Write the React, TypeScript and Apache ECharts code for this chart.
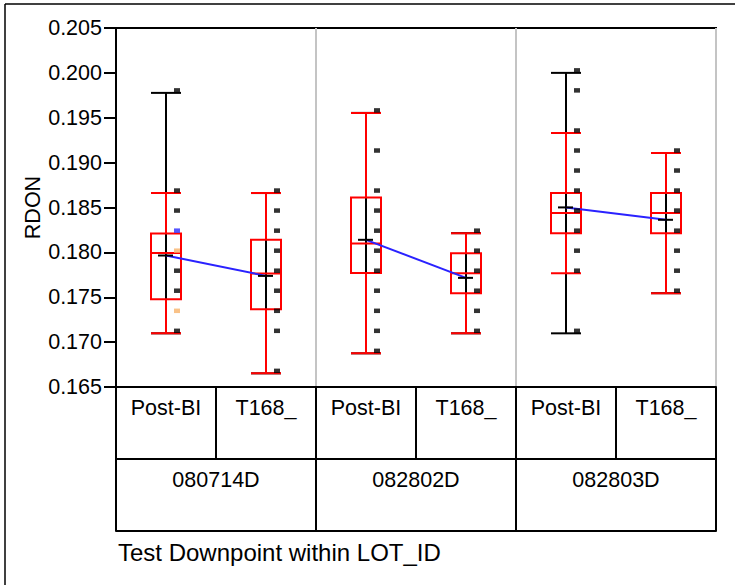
import React, { useEffect, useRef } from "react";
import * as echarts from "echarts";

const LOTS = ["080714D", "082802D", "082803D"];
const DOWNPOINTS = ["Post-BI", "T168_"];
const CATEGORIES = LOTS.flatMap(() => DOWNPOINTS);

// [whisker low, Q1, median, Q3, whisker high]
const BOX_STATS = [
  [0.17098, 0.17479, 0.17992, 0.1821, 0.18661],
  [0.16652, 0.17367, 0.17764, 0.1814, 0.18661],
  [0.16875, 0.17769, 0.18099, 0.18612, 0.19554],
  [0.17098, 0.17545, 0.17768, 0.17991, 0.18214],
  [0.17768, 0.18214, 0.18438, 0.18661, 0.1933],
  [0.17545, 0.18214, 0.18438, 0.18661, 0.19107],
];

// [min, max]
const RANGES = [
  [0.17098, 0.19777],
  [0.16652, 0.18661],
  [0.16875, 0.19554],
  [0.17098, 0.18214],
  [0.17098, 0.2],
  [0.17545, 0.19107],
];

const MEANS = [0.17965, 0.17738, 0.1814, 0.17716, 0.18501, 0.18363];

const POINTS = [
  [0.19777, 0.18661, 0.18438, 0.18214, 0.17991, 0.17768, 0.17545, 0.17321, 0.17098],
  [0.18661, 0.18438, 0.18214, 0.17991, 0.17768, 0.17545, 0.17321, 0.17098, 0.16652],
  [0.19554, 0.19107, 0.18661, 0.18438, 0.18214, 0.17991, 0.17768, 0.17545, 0.17321, 0.17098, 0.16875],
  [0.18214, 0.17991, 0.17768, 0.17545, 0.17321, 0.17098],
  [0.2, 0.19777, 0.1933, 0.19107, 0.18884, 0.18661, 0.18438, 0.18214, 0.17991, 0.17768, 0.17098],
  [0.19107, 0.18884, 0.18661, 0.18438, 0.18214, 0.17991, 0.17768, 0.17545],
];

// marker colour codes (k = black, b = blue, o = orange), same shape as POINTS
const POINT_COLORS = [
  ["k", "k", "k", "b", "o", "k", "k", "o", "k"],
  ["k", "k", "k", "k", "k", "k", "k", "k", "k"],
  ["k", "k", "k", "k", "k", "k", "k", "k", "k", "k", "k"],
  ["k", "k", "k", "k", "k", "k"],
  ["k", "k", "k", "k", "k", "k", "k", "k", "k", "k", "k"],
  ["k", "k", "k", "k", "k", "k", "k", "k"],
];

const COLOR_MAP: Record<string, string> = { k: "#000000", b: "#2a2aff", o: "#f7b36a" };
const FONT = 'Arial, "Liberation Sans", sans-serif';
const FS = 21.5;

export default function App() {
  const ref = useRef<HTMLDivElement>(null);

  useEffect(() => {
    if (!ref.current) return;
    const chart = echarts.init(ref.current, undefined, { renderer: "svg" });

    const scatterData: any[] = [];
    POINTS.forEach((vals, ci) =>
      vals.forEach((v, j) =>
        scatterData.push({
          value: [ci, v],
          itemStyle: { color: COLOR_MAP[POINT_COLORS[ci][j]] },
        })
      )
    );

    const meanLines = LOTS.map((_, g) => ({
      type: "line",
      data: CATEGORIES.map((_, ci) => (Math.floor(ci / 2) === g ? MEANS[ci] : "-")),
      symbol: "none",
      showSymbol: false,
      lineStyle: { color: "#2a22ff", width: 2 },
      z: 4,
      silent: true,
    }));

    const option: any = {
      animation: false,
      title: {
        text: "Test Downpoint within LOT_ID",
        left: 113,
        top: 535,
        textStyle: { fontFamily: FONT, fontSize: 24, fontWeight: "normal", color: "#000" },
      },
      grid: {
        left: 116,
        top: 28,
        right: 19,
        bottom: 198,
        show: true,
        borderColor: "#000",
        borderWidth: 2,
        backgroundColor: "transparent",
      },
      xAxis: [
        {
          type: "category",
          data: CATEGORIES,
          position: "bottom",
          axisLine: { show: true, lineStyle: { color: "#000", width: 2 } },
          axisTick: { show: true, interval: 0, length: 72, lineStyle: { color: "#000", width: 2 } },
          axisLabel: { interval: 0, margin: 10, fontSize: FS, fontFamily: FONT, color: "#000" },
          splitLine: { show: false },
        },
        {
          type: "category",
          data: LOTS,
          position: "bottom",
          offset: 72,
          axisLine: { show: true, lineStyle: { color: "#000", width: 2 } },
          axisTick: { show: true, interval: 0, length: 72, lineStyle: { color: "#000", width: 2 } },
          axisLabel: { interval: 0, margin: 10, fontSize: FS, fontFamily: FONT, color: "#000" },
          splitLine: { show: true, interval: 0, lineStyle: { color: "#c4c4c4", width: 2 } },
        },
        {
          type: "category",
          data: [""],
          position: "bottom",
          offset: 144,
          axisLine: { show: true, lineStyle: { color: "#000", width: 2 } },
          axisTick: { show: false },
          axisLabel: { show: false },
          splitLine: { show: false },
        },
      ],
      yAxis: {
        type: "value",
        min: 0.165,
        max: 0.205,
        interval: 0.005,
        name: "RDON",
        nameLocation: "middle",
        nameRotate: 90,
        nameGap: 72,
        nameMoveOverlap: false,
        nameTextStyle: { fontSize: FS, fontFamily: FONT, color: "#000" },
        axisLine: { show: true, lineStyle: { color: "#000", width: 2 } },
        axisTick: { show: true, length: 12, lineStyle: { color: "#000", width: 2 } },
        axisLabel: {
          margin: 14,
          fontSize: FS,
          fontFamily: FONT,
          color: "#000",
          formatter: (v: number) => v.toFixed(3),
        },
        splitLine: { show: false },
      },
      series: [
        {
          type: "custom",
          name: "range",
          xAxisIndex: 0,
          data: RANGES.map((r, ci) => [ci, r[0], r[1]]),
          encode: { x: 0, y: [1, 2] },
          z: 1,
          silent: true,
          renderItem: (params: any, api: any) => {
            const x = api.value(0);
            const lo = api.coord([x, api.value(1)]);
            const hi = api.coord([x, api.value(2)]);
            const hw = 15;
            const st = { stroke: "#000", lineWidth: 2 };
            return {
              type: "group",
              children: [
                { type: "line", shape: { x1: hi[0], y1: hi[1], x2: lo[0], y2: lo[1] }, style: st },
                { type: "line", shape: { x1: hi[0] - hw, y1: hi[1], x2: hi[0] + hw, y2: hi[1] }, style: st },
                { type: "line", shape: { x1: lo[0] - hw, y1: lo[1], x2: lo[0] + hw, y2: lo[1] }, style: st },
              ],
            };
          },
        },
        {
          type: "boxplot",
          xAxisIndex: 0,
          data: BOX_STATS,
          boxWidth: [30, 30],
          itemStyle: { color: "rgba(0,0,0,0)", borderColor: "#ff0000", borderWidth: 2 },
          z: 2,
          silent: true,
        },
        ...meanLines,
        {
          type: "custom",
          name: "mean",
          xAxisIndex: 0,
          data: MEANS.map((m, ci) => [ci, m]),
          encode: { x: 0, y: 1 },
          z: 5,
          silent: true,
          renderItem: (params: any, api: any) => {
            const p = api.coord([api.value(0), api.value(1)]);
            return {
              type: "line",
              shape: { x1: p[0] - 8, y1: p[1], x2: p[0] + 7, y2: p[1] },
              style: { stroke: "#000", lineWidth: 2 },
            };
          },
        },
        {
          type: "scatter",
          xAxisIndex: 0,
          data: scatterData,
          symbol: "rect",
          symbolSize: [6, 4.5],
          symbolOffset: [11, -2.5],
          z: 6,
          silent: true,
        },
      ],
      graphic: [
        { type: "line", shape: { x1: 5, y1: 4, x2: 735, y2: 4 }, style: { stroke: "#000", lineWidth: 1.5 } },
        { type: "line", shape: { x1: 5, y1: 4, x2: 5, y2: 585 }, style: { stroke: "#000", lineWidth: 1.5 } },
      ],
    };

    chart.setOption(option);
    return () => chart.dispose();
  }, []);

  return (
    <div
      ref={ref}
      style={{ position: "fixed", left: 0, top: 0, width: 735, height: 585, background: "#fff" }}
    />
  );
}
